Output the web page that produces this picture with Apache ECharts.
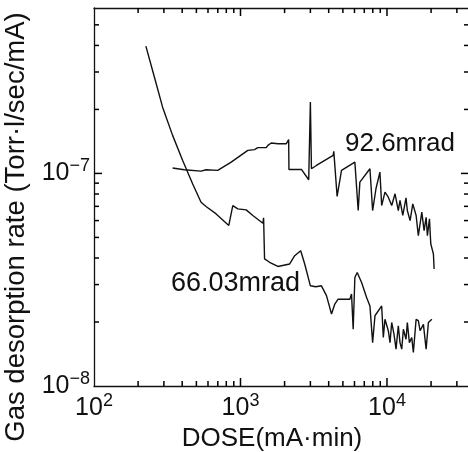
<!DOCTYPE html>
<html>
<head>
<meta charset="utf-8">
<script src="https://cdn.jsdelivr.net/npm/echarts@6/dist/echarts.min.js"></script>
<style>
  html, body { margin: 0; padding: 0; background: #fff; }
  #main { width: 468px; height: 452px; }
</style>
</head>
<body>
<div id="main"></div>
<script>
// 66.03mrad curve (dose mA·min, rate Torr·l/sec/mA)
var dose66 = [226, 258, 294, 344, 403, 471, 538, 582, 682, 832, 886, 959, 1094, 1214, 1422, 1438, 1460, 1580, 1800, 2167, 2344, 2576, 2744, 3000, 3264, 3570, 3864, 4181, 4404, 4637, 5580, 5728, 5878, 6036, 6263, 6710, 7260, 7650, 7980, 8280, 9200, 9440, 9690, 10210, 10490, 10770, 11170, 11530, 11950, 12270, 12610, 12940, 13490, 13770, 14220, 14760, 15140, 15810, 16370, 16830, 17730, 18500, 19180, 20240];
var rate66 = [3.97e-7, 2.85e-7, 2.05e-7, 1.51e-7, 1.15e-7, 8.94e-8, 7.32e-8, 6.99e-8, 6.45e-8, 5.69e-8, 7.06e-8, 6.81e-8, 6.74e-8, 6.34e-8, 5.83e-8, 6.18e-8, 3.96e-8, 3.82e-8, 3.65e-8, 3.75e-8, 4.10e-8, 4.33e-8, 3.75e-8, 2.96e-8, 2.93e-8, 2.96e-8, 2.66e-8, 2.18e-8, 2.43e-8, 2.56e-8, 2.56e-8, 2.71e-8, 1.85e-8, 3.24e-8, 3.42e-8, 3.07e-8, 2.61e-8, 2.38e-8, 1.60e-8, 2.14e-8, 2.38e-8, 1.69e-8, 2.06e-8, 1.82e-8, 1.60e-8, 1.99e-8, 1.75e-8, 1.49e-8, 1.92e-8, 1.60e-8, 1.49e-8, 1.85e-8, 1.66e-8, 1.99e-8, 1.60e-8, 1.69e-8, 1.44e-8, 2.06e-8, 2.03e-8, 1.82e-8, 1.95e-8, 1.49e-8, 1.99e-8, 2.06e-8];

// 92.6mrad curve
var dose92 = [344, 413, 538, 582, 699, 864, 1122, 1247, 1314, 1500, 1538, 1622, 1800, 2056, 2132, 2142, 2606, 2922, 3000, 3050, 3298, 4290, 4335, 4567, 4894, 6036, 6360, 6530, 7650, 7980, 8410, 8950, 9200, 9690, 10210, 10770, 11350, 11950, 12270, 12820, 13490, 13770, 14380, 15000, 15810, 16370, 17290, 17920, 18500, 18880, 19500, 19910, 20750, 20980];
var rate92 = [1.06e-7, 1.04e-7, 1.025e-7, 1.04e-7, 1.033e-7, 1.13e-7, 1.284e-7, 1.294e-7, 1.322e-7, 1.322e-7, 1.355e-7, 1.39e-7, 1.38e-7, 1.38e-7, 1.442e-7, 1.044e-7, 1.044e-7, 9.34e-8, 2.17e-7, 1.052e-7, 1.09e-7, 1.216e-7, 1.27e-7, 7.79e-8, 1.033e-7, 1.13e-7, 6.69e-8, 9.10e-8, 1.052e-7, 6.69e-8, 8.47e-8, 1.014e-7, 7.06e-8, 8.16e-8, 7.73e-8, 7.06e-8, 8.02e-8, 6.69e-8, 7.46e-8, 6.34e-8, 7.68e-8, 6.69e-8, 6.00e-8, 7.19e-8, 6.34e-8, 5.10e-8, 6.57e-8, 5.38e-8, 6.22e-8, 5.10e-8, 6.11e-8, 4.66e-8, 4.18e-8, 3.55e-8];

// axis ranges and tick values
var xMin = 100, xMax = 36300;
var yMin = 1e-8, yMax = 6e-7;
var xMajorTicks = [1000, 10000];
var yMajorTicks = [1e-7];
var xMinorTicks = [200, 300, 400, 500, 600, 700, 800, 900, 2000, 3000, 4000, 5000, 6000, 7000, 8000, 9000, 20000, 30000];
var yMinorTicks = [2e-8, 3e-8, 4e-8, 5e-8, 6e-8, 7e-8, 8e-8, 9e-8, 2e-7, 3e-7, 4e-7, 5e-7];

var FONT = '"Liberation Sans", Arial, Helvetica, sans-serif';

function zip(xs, ys) {
  return xs.map(function (x, i) { return [x, ys[i]]; });
}

function powLabel(v) {
  var e = Math.log10(v);
  var r = Math.round(e);
  if (Math.abs(e - r) > 1e-6) return '';
  return '{b|10}{s|' + (r < 0 ? '\u2212' : '') + Math.abs(r) + '}';
}

var richLabel = {
  b: { fontSize: 25, lineHeight: 32, fontFamily: FONT, color: '#111' },
  s: { fontSize: 18, verticalAlign: 'top', fontFamily: FONT, color: '#111' }
};

// tick marks on the four frame sides (inward, like the original plot)
var tickItems = [];
['bottom', 'top'].forEach(function (side) {
  xMinorTicks.forEach(function (v) { tickItems.push({ x: v, y: 1e-7, side: side, major: false }); });
  xMajorTicks.forEach(function (v) { tickItems.push({ x: v, y: 1e-7, side: side, major: true }); });
});
['left', 'right'].forEach(function (side) {
  yMinorTicks.forEach(function (v) { tickItems.push({ x: 1000, y: v, side: side, major: false }); });
  yMajorTicks.forEach(function (v) { tickItems.push({ x: 1000, y: v, side: side, major: true }); });
});

var myChart = echarts.init(document.getElementById('main'));

var axisLineStyle = { lineStyle: { color: '#111', width: 1.3 } };

var option = {
  animation: false,
  backgroundColor: '#fff',
  grid: { left: 94, top: 8, right: -1, bottom: 66, outerBoundsMode: 'none', containLabel: false },
  xAxis: [
    {
      type: 'log',
      min: xMin,
      max: xMax,
      position: 'bottom',
      name: 'DOSE(mA\u00b7min)',
      nameLocation: 'middle',
      nameGap: 36,
      nameTextStyle: { fontSize: 26, fontFamily: FONT, color: '#111', padding: [0, 19, 0, 0] },
      axisLine: axisLineStyle,
      axisTick: { show: false },
      axisLabel: { margin: 6, formatter: powLabel, rich: richLabel, showMaxLabel: false },
      splitLine: { show: false }
    },
    {
      type: 'log',
      min: xMin,
      max: xMax,
      position: 'top',
      axisLine: axisLineStyle,
      axisTick: { show: false },
      axisLabel: { show: false },
      splitLine: { show: false }
    }
  ],
  yAxis: [
    {
      type: 'log',
      min: yMin,
      max: yMax,
      position: 'left',
      name: 'Gas desorption rate (Torr\u00b7l/sec/mA)',
      nameLocation: 'middle',
      nameGap: 58,
      nameTextStyle: { fontSize: 27.5, fontFamily: FONT, color: '#111', padding: [0, 60, 0, 0] },
      axisLine: axisLineStyle,
      axisTick: { show: false },
      axisLabel: { margin: 4, formatter: powLabel, rich: richLabel, showMaxLabel: false },
      splitLine: { show: false }
    },
    {
      type: 'log',
      min: yMin,
      max: yMax,
      position: 'right',
      axisLine: axisLineStyle,
      axisTick: { show: false },
      axisLabel: { show: false },
      splitLine: { show: false }
    }
  ],
  graphic: [
    { type: 'text', left: 345, top: 131, style: { text: '92.6mrad', fontSize: 26, fontFamily: FONT, fill: '#111' } },
    { type: 'text', left: 171, top: 270, style: { text: '66.03mrad', fontSize: 27, fontFamily: FONT, fill: '#111' } }
  ],
  series: [
    {
      name: '66.03mrad',
      type: 'line',
      showSymbol: false,
      lineStyle: { color: '#111', width: 1.4 },
      data: zip(dose66, rate66)
    },
    {
      name: '92.6mrad',
      type: 'line',
      showSymbol: false,
      lineStyle: { color: '#111', width: 1.4 },
      data: zip(dose92, rate92)
    },
    {
      type: 'custom',
      renderItem: function (params, api) {
        var cs = params.coordSys;
        var t = tickItems[params.dataIndex];
        var p = api.coord([t.x, t.y]);
        var len = t.major ? 8 : 5;
        var x1, y1, x2, y2;
        if (t.side === 'bottom') { x1 = x2 = p[0]; y1 = cs.y + cs.height; y2 = y1 - len; }
        else if (t.side === 'top') { x1 = x2 = p[0]; y1 = cs.y; y2 = y1 + len; }
        else if (t.side === 'left') { y1 = y2 = p[1]; x1 = cs.x; x2 = x1 + len; }
        else { y1 = y2 = p[1]; x1 = cs.x + cs.width; x2 = x1 - len; }
        return {
          type: 'line',
          shape: { x1: x1, y1: y1, x2: x2, y2: y2 },
          style: { stroke: '#000', lineWidth: 1.5 }
        };
      },
      data: tickItems.map(function (t) { return [t.x, t.y]; })
    }
  ]
};

myChart.setOption(option);
</script>
</body>
</html>
